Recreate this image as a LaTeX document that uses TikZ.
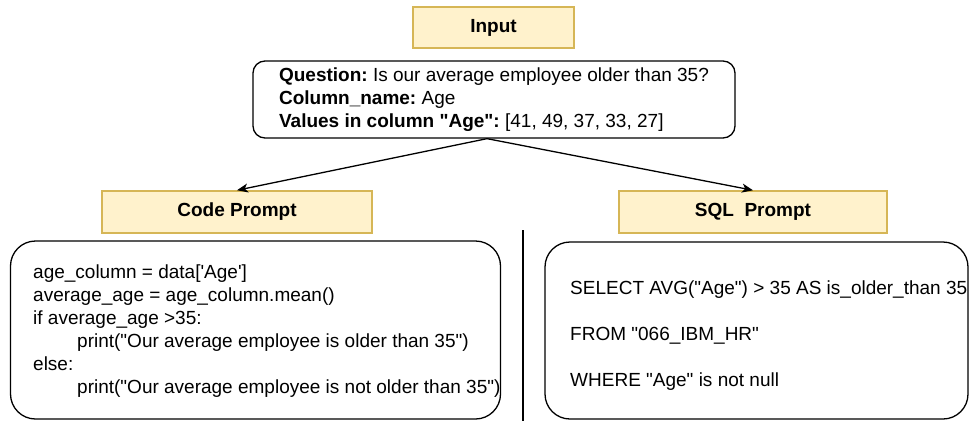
\documentclass[tikz,border=0pt]{standalone}
\usepackage{fontspec}
\setmainfont{Liberation Sans}[Ligatures=TeXOff]
\usetikzlibrary{arrows.meta}
\definecolor{promptfill}{HTML}{FFF2CC}
\definecolor{promptdraw}{HTML}{D6B656}
\frenchspacing
\begin{document}
\begin{tikzpicture}[x=1pt, y=-1pt,
    font=\fontsize{19}{23}\selectfont,
    header/.style={draw=promptdraw, fill=promptfill, line width=1.5pt, font=\fontsize{19}{23}\selectfont\bfseries, inner sep=0pt},
    roundbox/.style={draw, line width=1.3pt, rounded corners=#1, inner sep=0pt},
    plaintext/.style={anchor=west, align=left, inner sep=0pt},
    link/.style={line width=1.3pt, -{Stealth[length=11pt, width=9pt, inset=3pt]}}]
        \useasboundingbox (0,0) rectangle (969,421); % page frame
        \node[header, minimum width=161pt, minimum height=41pt] (input) at (493.5,27.5) {Input}; % top label
        \node[roundbox=12pt, minimum width=482pt, minimum height=77pt, align=left] (question) at (494,99.5)
            {\textbf{Question:} Is our average employee older than 35?\\
             \textbf{Column\_name:} Age\\
             \textbf{Values in column "Age":} [41, 49, 37, 33, 27]}; % input box
        \node[header, minimum width=270pt, minimum height=42pt] (codeprompt) at (237,212) {Code Prompt}; % left label
        \node[header, minimum width=268pt, minimum height=42pt] (sqlprompt) at (753,212) {SQL\ \ Prompt}; % right label
        \draw[link] ([xshift=-7pt]question.south) -- (codeprompt.north); % arrow left
        \draw[link] ([xshift=-7pt]question.south) -- (sqlprompt.north); % arrow right
        \node[roundbox=25pt, minimum width=490pt, minimum height=178pt] (codebox) at (255.5,330) {}; % code frame
        \node[roundbox=25pt, minimum width=423pt, minimum height=177pt] (sqlbox) at (756.5,330.5) {}; % sql frame
        \node[plaintext] (codetext) at (33,331)
            {age\_column = data['Age']\\
             average\_age = age\_column.mean()\\
             if average\_age >35:\\
             \hspace*{44pt}print("Our average employee is older than 35")\\
             else:\\
             \hspace*{44pt}print("Our average employee is not older than 35")}; % python code
        \node[plaintext] (sqltext) at (570,336)
            {SELECT AVG("Age") > 35 AS is\_older\_than 35\\[23pt]
             FROM "066\_IBM\_HR"\\[23pt]
             WHERE "Age" is not null}; % sql code
        \coordinate (septop) at (523,230); % divider start
        \coordinate (sepbot) at (523,421); % divider end
        \draw[line width=1.3pt] (septop) -- (sepbot); % divider
    \end{tikzpicture}
\end{document}
